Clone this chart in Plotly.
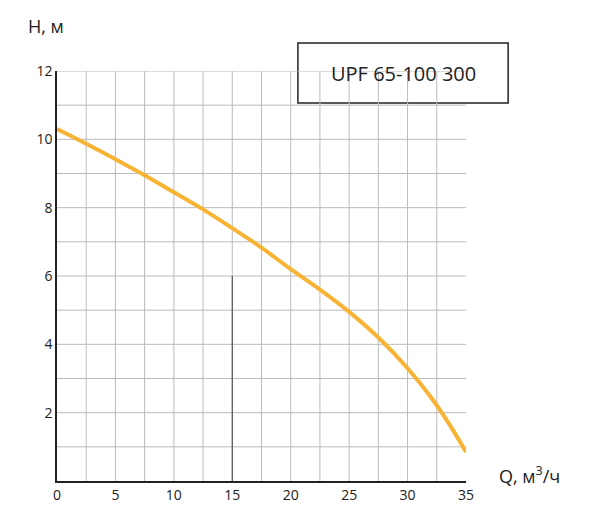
import plotly.graph_objects as go

q = [0, 2.5, 5, 7.5, 10, 12.5, 15, 17.5, 20, 22.5, 25, 27.5, 30, 32, 33.5, 35]
h = [10.3, 9.87, 9.42, 8.95, 8.45, 7.95, 7.4, 6.83, 6.2, 5.6, 4.95, 4.2, 3.3, 2.45, 1.7, 0.85]
x_ticks = [0, 5, 10, 15, 20, 25, 30, 35]
y_ticks = [2, 4, 6, 8, 10, 12]

fig = go.Figure()
fig.add_trace(go.Scatter(x=q, y=h, mode="lines", line=dict(color="#F7B334", width=4, shape="spline"), hoverinfo="skip"))

fig.add_shape(type="line", x0=15, x1=15, y0=0, y1=6, xref="x", yref="y", line=dict(color="#555", width=1.2))

fig.update_layout(
    width=600, height=519, margin=dict(l=49, r=142, t=63, b=46, autoexpand=False),
    paper_bgcolor="white", plot_bgcolor="white", showlegend=False,
    font=dict(family="Open Sans, sans-serif", size=14, color="#222"),
    xaxis=dict(range=[0, 35], tickvals=x_ticks, showgrid=False, showline=True, linecolor="#222", linewidth=1.5,
               zeroline=False, ticks="", tickfont=dict(size=14)),
    yaxis=dict(range=[0, 12], tickvals=y_ticks, showgrid=False, showline=True, linecolor="#222", linewidth=1.5,
               zeroline=False, ticks="", tickfont=dict(size=14)),
    annotations=[
        dict(text="H, м", xref="paper", yref="paper", x=-0.075, y=1.11, xanchor="left", yanchor="middle", showarrow=False, font=dict(size=18)),
        dict(text="Q, м<sup>3</sup>/ч", xref="paper", yref="paper", x=1.075, y=0.015, xanchor="left", yanchor="middle", showarrow=False, font=dict(size=18)),
        dict(text="UPF 65-100 300", xref="paper", yref="paper", x=0.846, y=0.995, xanchor="center", yanchor="middle", showarrow=False, font=dict(size=20)),
    ],
)
for i in range(1, 14):
    fig.add_shape(type="line", x0=i*2.5, x1=i*2.5, y0=0, y1=12, xref="x", yref="y", line=dict(color="#bbb", width=1), layer="below")
for j in range(1, 13):
    fig.add_shape(type="line", x0=0, x1=35, y0=j, y1=j, xref="x", yref="y", line=dict(color="#bbb", width=1), layer="below")
fig.add_shape(type="rect", xref="paper", yref="paper", x0=0.589, x1=1.103, y0=0.922, y1=1.068, line=dict(color="#222", width=1.5), fillcolor="white", layer="below")

fig.write_html("out.html")
